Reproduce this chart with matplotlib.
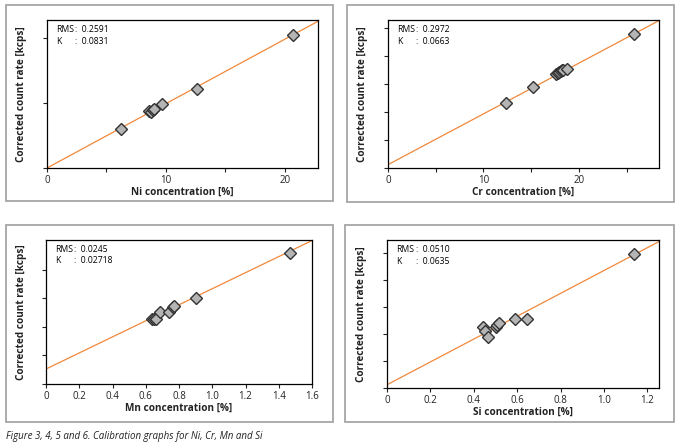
import matplotlib.pyplot as plt
from matplotlib.patches import Rectangle

plt.rcParams['font.family'] = ['Open Sans', 'DejaVu Sans']

# Ni
ni_conc = [6.19, 8.57, 8.71, 8.88, 8.99, 9.66, 12.58, 20.7]
ni_rate = [0.593, 0.87, 0.86, 0.885, 0.905, 0.987, 1.217, 2.046]
ni_fit = (0.0987, 0.0)  # slope, intercept
# Cr
cr_conc = [12.33, 15.23, 17.6, 17.8, 17.94, 18.08, 18.22, 18.36, 18.78, 25.75]
cr_rate = [2.32, 2.90, 3.37, 3.41, 3.45, 3.47, 3.50, 3.51, 3.54, 4.79]
cr_fit = (0.1817, 0.12)
# Mn
mn_conc = [0.637, 0.651, 0.663, 0.683, 0.741, 0.763, 0.771, 0.90, 1.468]
mn_rate = [2.28, 2.26, 2.26, 2.52, 2.53, 2.71, 2.74, 3.0, 4.6]
mn_fit = (2.81, 0.525)
# Si
si_conc = [0.442, 0.451, 0.463, 0.5, 0.509, 0.515, 0.589, 0.644, 1.138]
si_rate = [2.26, 2.10, 1.90, 2.26, 2.35, 2.40, 2.56, 2.56, 4.98]
si_fit = (4.24, 0.12)

W, H = 682, 447

panels = [
    # data, fit, label, rms, k, xlim, ylim, xticks, xlabels, yticks, axes box px, border px
    (ni_conc, ni_rate, ni_fit, 'Ni concentration [%]', '0.2591', '0.0831',
     (0, 22.8), (0, 2.27), [0, 5, 10, 15, 20], ['0', '', '10', '', '20'], [0, 1, 2],
     (47, 20, 318, 168), (6, 5, 333, 201)),
    (cr_conc, cr_rate, cr_fit, 'Cr concentration [%]', '0.2972', '0.0663',
     (0, 28.4), (0, 5.3), [0, 5, 10, 15, 20, 25], ['0', '', '10', '', '20', ''], [0, 1, 2, 3, 4, 5],
     (388, 20, 659, 168), (347, 5, 674, 202)),
    (mn_conc, mn_rate, mn_fit, 'Mn concentration [%]', '0.0245', '0.02718',
     (0, 1.6), (0, 5.04), [0, 0.2, 0.4, 0.6, 0.8, 1.0, 1.2, 1.4, 1.6],
     ['0', '0.2', '0.4', '0.6', '0.8', '1.0', '1.2', '1.4', '1.6'], [0, 1, 2, 3, 4],
     (46, 240, 312, 384), (6, 225, 333, 422)),
    (si_conc, si_rate, si_fit, 'Si concentration [%]', '0.0510', '0.0635',
     (0, 1.253), (0, 5.49), [0, 0.2, 0.4, 0.6, 0.8, 1.0, 1.2],
     ['0', '0.2', '0.4', '0.6', '0.8', '1.0', '1.2'], [0, 1, 2, 3, 4, 5],
     (387, 240, 659, 388), (345, 225, 674, 422)),
]

fig = plt.figure(figsize=(W / 100, H / 100), dpi=100)
fig.patch.set_facecolor('white')

for (xs, ys, fit, xlabel, rms, k, xlim, ylim, xticks, xlabels, yticks, box, border) in panels:
    # gray frame around each graph
    bx0, by0, bx1, by1 = border
    fig.patches.append(Rectangle((bx0 / W, 1 - by1 / H), (bx1 - bx0) / W, (by1 - by0) / H,
                                 transform=fig.transFigure, fill=False,
                                 edgecolor='#a6a6a6', linewidth=1.3))

    x0, y0, x1, y1 = box
    ax = fig.add_axes([x0 / W, 1 - y1 / H, (x1 - x0) / W, (y1 - y0) / H])

    slope, icpt = fit
    ax.plot([xlim[0], xlim[1]], [icpt + slope * xlim[0], icpt + slope * xlim[1]],
            color='#f0883a', linewidth=0.9, zorder=2)
    ax.plot(xs, ys, linestyle='none', marker='D', markersize=6.5,
            markerfacecolor='#b4b4b4', markeredgecolor='#333333', markeredgewidth=1.0, zorder=3)

    ax.set_xlim(*xlim)
    ax.set_ylim(*ylim)
    ax.set_xticks(xticks)
    ax.set_xticklabels(xlabels)
    ax.set_yticks(yticks)
    ax.set_yticklabels([])
    ax.tick_params(direction='out', length=3, width=0.8, labelsize=7, pad=2, colors='#222222')
    for s in ax.spines.values():
        s.set_linewidth(0.9)

    ax.set_xlabel(xlabel, fontsize=7.2, fontweight='bold', color='#222222')
    ax.set_ylabel('Corrected count rate [kcps]', fontsize=7.2, fontweight='bold', color='#222222')
    ax.xaxis.set_label_coords(0.5, -0.13)
    ax.yaxis.set_label_coords(-0.072, 0.5)

    ax.text(0.033, 0.935, 'RMS', transform=ax.transAxes, fontsize=6.2, va='center')
    ax.text(0.033, 0.855, 'K', transform=ax.transAxes, fontsize=6.2, va='center')
    ax.text(0.105, 0.935, ':  ' + rms, transform=ax.transAxes, fontsize=6.2, va='center')
    ax.text(0.105, 0.855, ':  ' + k, transform=ax.transAxes, fontsize=6.2, va='center')

fig.text(6 / W, 1 - 436 / H, 'Figure 3, 4, 5 and 6. Calibration graphs for Ni, Cr, Mn and Si',
         fontsize=7, style='italic', va='center', ha='left', color='#222222')

fig.savefig('out.png', dpi=100)
